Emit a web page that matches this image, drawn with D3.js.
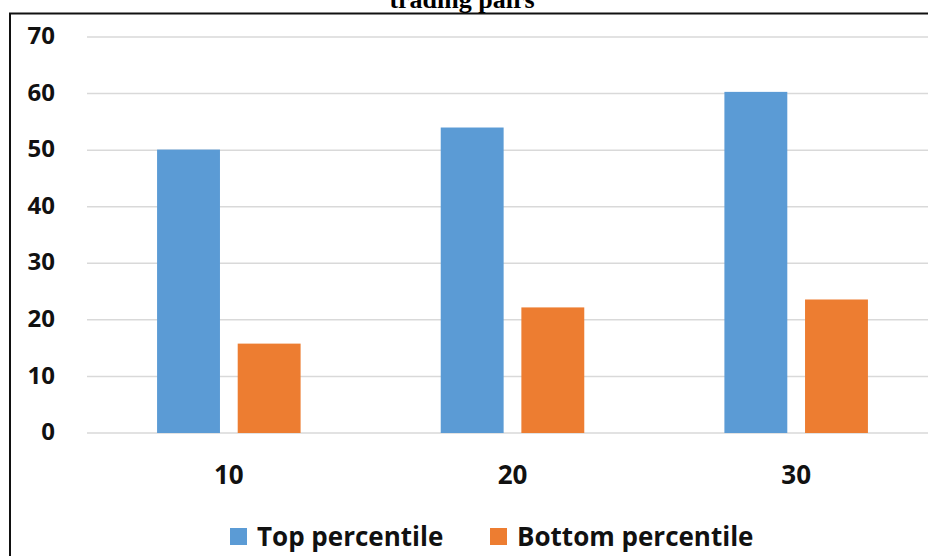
<!DOCTYPE html>
<html>
<head>
<meta charset="utf-8">
<script src="https://cdn.jsdelivr.net/npm/d3@7"></script>
<style>
  html, body { margin: 0; padding: 0; background: #fff; }
  svg { display: block; }
</style>
</head>
<body>
<script>
// Chart data
const categories = ["10", "20", "30"];
const seriesNames = ["Top percentile", "Bottom percentile"];
const topPercentile = [50.1, 54.0, 60.3];
const bottomPercentile = [15.8, 22.2, 23.6];
const yTicks = [0, 10, 20, 30, 40, 50, 60, 70];
const titleText = "trading pairs";

const colors = { "Top percentile": "#5b9bd5", "Bottom percentile": "#ed7d31" };
const seriesValues = { "Top percentile": topPercentile, "Bottom percentile": bottomPercentile };

const W = 928, H = 556;
const labelFont = "'Open Sans', 'Noto Sans', sans-serif";
const svg = d3.select("body").append("svg").attr("width", W).attr("height", H);

// Frame around the chart (right and bottom edges fall outside the view)
svg.append("path")
  .attr("d", `M10,${H + 5} L10,13.5 L${W + 5},13.5`)
  .attr("fill", "none").attr("stroke", "#111").attr("stroke-width", 2);

// Title, partly above the visible area
svg.append("text")
  .attr("x", 462).attr("y", 8)
  .attr("text-anchor", "middle")
  .attr("font-family", "'Liberation Serif', 'Times New Roman', serif")
  .attr("font-weight", "bold").attr("font-size", 26)
  .text(titleText);

const plot = { left: 87, right: 938, top: 37, bottom: 433 };

const y = d3.scaleLinear().domain([0, 70]).range([plot.bottom, plot.top]);
const x0 = d3.scaleBand().domain(categories).range([plot.left, plot.right]).padding(0);
const bw = x0.bandwidth();
const x1 = d3.scaleBand().domain(seriesNames).range([bw * 0.247, bw * 0.753]).paddingInner(0.22);

// Gridlines
svg.append("g").selectAll("line").data(yTicks).join("line")
  .attr("x1", plot.left).attr("x2", W)
  .attr("y1", d => y(d)).attr("y2", d => y(d))
  .attr("stroke", "#d9d9d9").attr("stroke-width", 1.5);

// Y axis labels
const yAxis = d3.axisLeft(y).tickValues(yTicks).tickSize(0).tickPadding(0);
const gy = svg.append("g").attr("transform", "translate(55,-1)").call(yAxis);
gy.select(".domain").remove();
gy.selectAll("text")
  .attr("font-family", labelFont)
  .attr("font-weight", "bold").attr("font-size", 24).attr("fill", "#111");

// Bars
const groups = svg.append("g").selectAll("g").data(categories).join("g")
  .attr("transform", d => `translate(${x0(d)},0)`);
groups.selectAll("rect")
  .data((c, i) => seriesNames.map(s => ({ s, v: seriesValues[s][i] })))
  .join("rect")
  .attr("x", d => x1(d.s))
  .attr("width", x1.bandwidth())
  .attr("y", d => y(d.v))
  .attr("height", d => y(0) - y(d.v))
  .attr("fill", d => colors[d.s]);

// X axis labels
const xAxis = d3.axisBottom(x0).tickSize(0).tickPadding(0);
const gx = svg.append("g").attr("transform", "translate(0,484)").call(xAxis);
gx.select(".domain").remove();
gx.selectAll("text")
  .attr("dy", 0)
  .attr("font-family", labelFont)
  .attr("font-weight", "bold").attr("font-size", 26).attr("fill", "#111");

// Legend
const legendItems = [
  { s: "Top percentile", x: 230 },
  { s: "Bottom percentile", x: 490 }
];
const lg = svg.append("g").selectAll("g").data(legendItems).join("g")
  .attr("transform", d => `translate(${d.x},528)`);
lg.append("rect").attr("width", 17).attr("height", 17).attr("fill", d => colors[d.s]);
lg.append("text")
  .attr("x", 27).attr("y", 18)
  .attr("font-family", labelFont)
  .attr("font-weight", "bold").attr("font-size", 26).attr("fill", "#111")
  .text(d => d.s);
</script>
</body>
</html>
